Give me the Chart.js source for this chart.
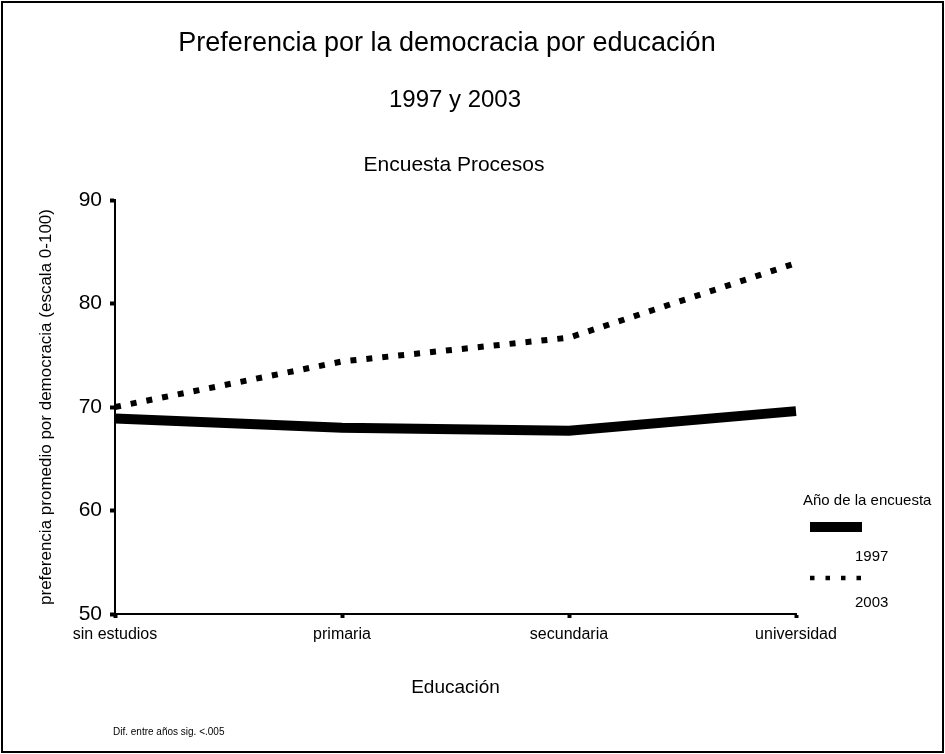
<!DOCTYPE html>
<html>
<head>
<meta charset="utf-8">
<script src="https://cdn.jsdelivr.net/npm/chart.js@4.4.3/dist/chart.umd.min.js"></script>
<style>
  html, body { margin: 0; padding: 0; background: #fff; }
  #wrap { width: 945px; height: 754px; position: relative; }
</style>
</head>
<body>
<div id="wrap"><canvas id="chart" width="945" height="754"></canvas></div>
<script>
// data
const educationLevels = ['sin estudios', 'primaria', 'secundaria', 'universidad'];
const pref1997 = [68.9, 68.0, 67.7, 69.6];
const pref2003 = [70.0, 74.4, 76.7, 83.9];
const seriesNames = ['1997', '2003'];
const yMin = 50, yMax = 90, yStep = 10;

const FONT = '"Liberation Sans", Arial, sans-serif';

// titles, legend, footnote and frame
const decor = {
    id: 'decor',
    afterDraw(chart) {
        const ctx = chart.ctx;
        ctx.save();
        ctx.strokeStyle = '#000';
        ctx.lineWidth = 2;
        ctx.strokeRect(2, 2, 941, 750);

        ctx.fillStyle = '#000';
        ctx.textBaseline = 'middle';
        ctx.textAlign = 'center';
        ctx.font = '27px ' + FONT;
        ctx.fillText('Preferencia por la democracia por educación', 447, 44);
        ctx.font = '24px ' + FONT;
        ctx.fillText('1997 y 2003', 455, 100);
        ctx.font = '21px ' + FONT;
        ctx.fillText('Encuesta Procesos', 454, 165);

        // legend
        ctx.textAlign = 'left';
        ctx.font = '15px ' + FONT;
        ctx.fillText('Año de la encuesta', 803, 501);
        const ds = chart.data.datasets;
        ctx.fillRect(810, 522, 52, 10);
        ctx.fillText(ds[0].label, 855, 557);
        ctx.beginPath();
        ctx.setLineDash([4.5, 11]);
        ctx.lineWidth = 4.5;
        ctx.moveTo(810, 578);
        ctx.lineTo(862, 578);
        ctx.stroke();
        ctx.setLineDash([]);
        ctx.fillText(ds[1].label, 855, 603);

        ctx.font = '10px ' + FONT;
        ctx.fillText('Dif. entre años sig. <.005', 113, 732);
        ctx.restore();
    }
};

new Chart(document.getElementById('chart'), {
    type: 'line',
    data: {
        labels: educationLevels,
        datasets: [{
            label: seriesNames[0],
            data: pref1997,
            borderColor: '#000',
            borderWidth: 10,
            borderCapStyle: 'butt',
            borderJoinStyle: 'miter',
            pointRadius: 0,
            tension: 0
        }, {
            label: seriesNames[1],
            data: pref2003,
            borderColor: '#000',
            borderWidth: 6,
            borderDash: [6, 10],
            borderCapStyle: 'butt',
            pointRadius: 0,
            tension: 0
        }]
    },
    options: {
        responsive: false,
        devicePixelRatio: 1,
        animation: false,
        layout: { padding: { left: 0, top: 200, right: 149, bottom: 0 } },
        plugins: { legend: { display: false }, tooltip: { enabled: false } },
        scales: {
            x: {
                type: 'category',
                offset: false,
                afterFit: (scale) => { scale.height = 140; },
                grid: { drawOnChartArea: false, drawTicks: true, tickLength: 4, tickWidth: 4, tickColor: '#000' },
                border: { display: true, color: '#000', width: 2 },
                ticks: { color: '#000', font: { family: FONT, size: 16 }, padding: 7, maxRotation: 0, autoSkip: false },
                title: { display: true, text: 'Educación', color: '#000', font: { family: FONT, size: 19 }, padding: { bottom: 55 } }
            },
            y: {
                min: yMin,
                max: yMax,
                afterFit: (scale) => { scale.width = 115; },
                grid: { drawOnChartArea: false, drawTicks: true, tickLength: 5, tickWidth: 4, tickColor: '#000' },
                border: { display: true, color: '#000', width: 2 },
                ticks: { stepSize: yStep, color: '#000', font: { family: FONT, size: 21 }, padding: 8 },
                title: { display: true, text: 'preferencia promedio por democracia (escala 0-100)', color: '#000', font: { family: FONT, size: 17 }, padding: { top: 36 } }
            }
        }
    },
    plugins: [decor]
});
</script>
</body>
</html>
